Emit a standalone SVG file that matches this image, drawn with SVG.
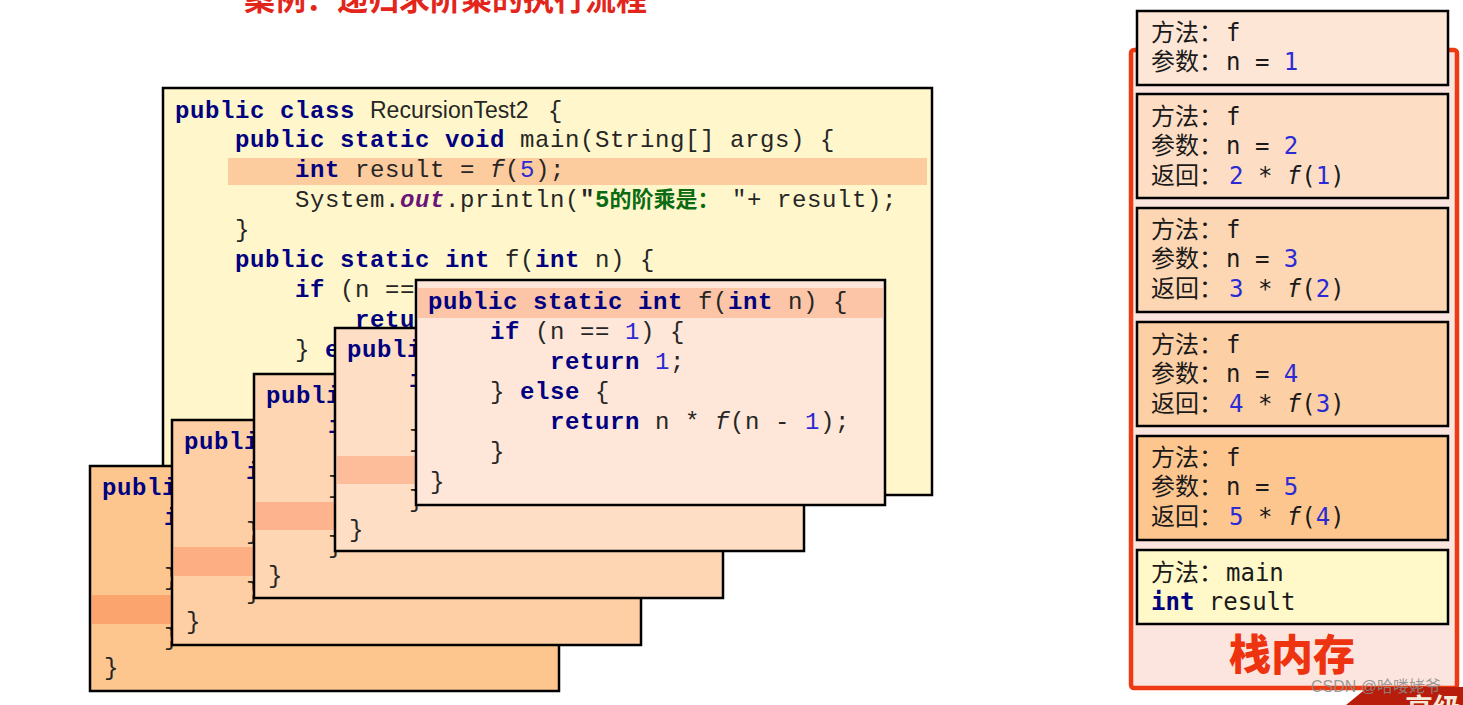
<svg xmlns="http://www.w3.org/2000/svg" xmlns:xlink="http://www.w3.org/1999/xlink" width="1463" height="705" viewBox="0 0 1463 705">
<style>
.c{font-family:"Liberation Mono","DejaVu Sans Mono",monospace;font-size:24px;letter-spacing:0.6px;fill:#262626;white-space:pre}
.k{font-weight:bold;fill:#000080}
.n{fill:#2b2bd6}
.i{font-style:italic}
.o{font-weight:bold;font-style:italic;fill:#6a1478}
.g{font-family:"Liberation Mono","Noto Sans CJK SC",monospace;font-size:24px;font-weight:bold;fill:#0b6b12}
.gc{font-family:"Noto Sans CJK SC",sans-serif;font-size:22px;font-weight:bold;fill:#0b6b12}
.box{stroke:#000;stroke-width:2.5}
.s{font-family:"DejaVu Sans Mono","Noto Sans CJK SC",monospace;font-size:24px;fill:#1a1a1a;white-space:pre}
.sc{font-family:"Noto Sans CJK SC",sans-serif;font-size:24px;fill:#1a1a1a}
.sn{fill:#2b2bd6}
.sk{font-weight:bold;fill:#000080}
.fr{stroke:#000;stroke-width:2.5}
</style>
<defs>
<g id="fcode">
<text class="c" x="12" y="29"><tspan class="k">public static int</tspan> f(<tspan class="k">int</tspan> n) {</text>
<text class="c" x="74" y="59"><tspan class="k">if</tspan> (n == <tspan class="n">1</tspan>) {</text>
<text class="c" x="134" y="89"><tspan class="k">return</tspan> <tspan class="n">1</tspan>;</text>
<text class="c" x="74" y="119">} <tspan class="k">else</tspan> {</text>
<text class="c" x="134" y="149"><tspan class="k">return</tspan> n * <tspan class="i">f</tspan>(n - <tspan class="n">1</tspan>);</text>
<text class="c" x="74" y="179">}</text>
<text class="c" x="14" y="209">}</text>
</g>
</defs>
<rect width="1463" height="705" fill="#ffffff"/>
<g id="title">
<text x="244" y="10" font-family="Noto Sans CJK SC, sans-serif" font-size="31" font-weight="bold" fill="#e3261b">案例：递归求阶乘的执行流程</text>
</g>
<g id="main-code">
<rect class="box" x="163" y="88" width="769" height="407" fill="#fff7cb"/>
<rect x="228" y="158" width="699" height="27" fill="#fccb9e"/>
<text class="c" x="175" y="118"><tspan class="k">public class</tspan></text>
<text x="370" y="118" font-family="Liberation Sans, Arial, sans-serif" font-size="23" fill="#262626">RecursionTest2</text>
<text class="c" x="548" y="118">{</text>
<text class="c" x="235" y="147"><tspan class="k">public static void</tspan> main(String[] args) {</text>
<text class="c" x="295" y="177"><tspan class="k">int</tspan> result = <tspan class="i">f</tspan>(<tspan class="n">5</tspan>);</text>
<text class="c" x="295" y="207">System.<tspan class="o">out</tspan>.println(</text>
<text class="c" x="580" y="207" font-weight="bold">"</text>
<text class="g" x="595" y="207">5<tspan class="gc">的阶乘是：</tspan></text>
<text class="c" x="732" y="207">"+ result);</text>
<text class="c" x="235" y="237">}</text>
<text class="c" x="235" y="267"><tspan class="k">public static int</tspan> f(<tspan class="k">int</tspan> n) {</text>
<text class="c" x="295" y="297"><tspan class="k">if</tspan> (n == <tspan class="n">1</tspan>) {</text>
<text class="c" x="355" y="327"><tspan class="k">return</tspan> <tspan class="n">1</tspan>;</text>
<text class="c" x="295" y="357">} <tspan class="k">else</tspan> {</text>
<text class="c" x="355" y="387"><tspan class="k">return</tspan> n * <tspan class="i">f</tspan>(n - <tspan class="n">1</tspan>);</text>
<text class="c" x="295" y="417">}</text>
<text class="c" x="235" y="447">}</text>
<text class="c" x="175" y="477">}</text>
</g>
<g id="frame-n5" transform="translate(90,466)">
<rect class="box" width="469" height="225" fill="#fec68f"/>
<rect x="2" y="129" width="465" height="29" fill="#fba46d"/>
<use xlink:href="#fcode"/>
</g>
<g id="frame-n4" transform="translate(172,420)">
<rect class="box" width="469" height="225" fill="#fecfa5"/>
<rect x="2" y="127" width="465" height="29" fill="#fdae82"/>
<use xlink:href="#fcode"/>
</g>
<g id="frame-n3" transform="translate(254,374)">
<rect class="box" width="469" height="224" fill="#fed6b3"/>
<rect x="2" y="128" width="465" height="28" fill="#fdb38e"/>
<use xlink:href="#fcode"/>
</g>
<g id="frame-n2" transform="translate(335,328)">
<rect class="box" width="469" height="223" fill="#fedfc6"/>
<rect x="2" y="128" width="465" height="28" fill="#fdbd9b"/>
<use xlink:href="#fcode"/>
</g>
<g id="frame-n1" transform="translate(416,280)">
<rect class="box" width="469" height="225" fill="#fee7d8"/>
<rect x="2" y="8" width="465" height="30" fill="#fcc5a7"/>
<use xlink:href="#fcode"/>
</g>
<g id="stack-memory">
<rect x="1131" y="50" width="326" height="638" rx="3" fill="#fce5de" stroke="#ee3a12" stroke-width="4.5"/>
<text x="1292" y="670" text-anchor="middle" font-family="Noto Sans CJK SC, sans-serif" font-size="42" font-weight="900" fill="#ee3311">栈内存</text>
</g>
<g id="stack-f1">
<rect class="fr" x="1137" y="11" width="311" height="74" fill="#fde6d6"/>
<text class="sc" x="1151" y="41">方法：</text><text class="s" x="1226" y="41">f</text>
<text class="sc" x="1151" y="70">参数：</text><text class="s" x="1226" y="70">n = <tspan class="sn">1</tspan></text>
</g>
<g id="stack-f2">
<rect class="fr" x="1137" y="94" width="311" height="104" fill="#fddec5"/>
<text class="sc" x="1151" y="125">方法：</text><text class="s" x="1226" y="125">f</text>
<text class="sc" x="1151" y="154">参数：</text><text class="s" x="1226" y="154">n = <tspan class="sn">2</tspan></text>
<text class="sc" x="1151" y="184">返回：</text><text class="s" x="1229" y="184"><tspan class="sn">2</tspan> * <tspan font-style="italic">f</tspan>(<tspan class="sn">1</tspan>)</text>
</g>
<g id="stack-f3">
<rect class="fr" x="1137" y="208" width="311" height="104" fill="#fdd6b3"/>
<text class="sc" x="1151" y="238">方法：</text><text class="s" x="1226" y="238">f</text>
<text class="sc" x="1151" y="267">参数：</text><text class="s" x="1226" y="267">n = <tspan class="sn">3</tspan></text>
<text class="sc" x="1151" y="297">返回：</text><text class="s" x="1229" y="297"><tspan class="sn">3</tspan> * <tspan font-style="italic">f</tspan>(<tspan class="sn">2</tspan>)</text>
</g>
<g id="stack-f4">
<rect class="fr" x="1137" y="322" width="311" height="104" fill="#fdcfa5"/>
<text class="sc" x="1151" y="353">方法：</text><text class="s" x="1226" y="353">f</text>
<text class="sc" x="1151" y="382">参数：</text><text class="s" x="1226" y="382">n = <tspan class="sn">4</tspan></text>
<text class="sc" x="1151" y="412">返回：</text><text class="s" x="1229" y="412"><tspan class="sn">4</tspan> * <tspan font-style="italic">f</tspan>(<tspan class="sn">3</tspan>)</text>
</g>
<g id="stack-f5">
<rect class="fr" x="1137" y="436" width="311" height="104" fill="#fdc68f"/>
<text class="sc" x="1151" y="466">方法：</text><text class="s" x="1226" y="466">f</text>
<text class="sc" x="1151" y="495">参数：</text><text class="s" x="1226" y="495">n = <tspan class="sn">5</tspan></text>
<text class="sc" x="1151" y="525">返回：</text><text class="s" x="1229" y="525"><tspan class="sn">5</tspan> * <tspan font-style="italic">f</tspan>(<tspan class="sn">4</tspan>)</text>
</g>
<g id="stack-main">
<rect class="fr" x="1137" y="550" width="311" height="74" fill="#fff8c8"/>
<text class="sc" x="1151" y="581">方法：</text><text class="s" x="1226" y="581">main</text>
<text class="s" x="1151" y="610"><tspan class="sk">int</tspan> result</text>
</g>
<g id="connectors"/>
<g id="badge">
<polygon points="1346,705 1368,687 1463,687 1463,705" fill="#b81d0b"/>
<text x="1405" y="719" font-family="Noto Sans CJK SC, sans-serif" font-size="28" font-weight="bold" fill="#f6e8d6">高级</text>
</g>
<g id="watermark">
<text x="1311" y="692" font-family="Liberation Sans, Noto Sans CJK SC, sans-serif" font-size="16" fill="#8a8a8a" fill-opacity="0.85">CSDN @哈喽姥爷</text>
</g>
</svg>
